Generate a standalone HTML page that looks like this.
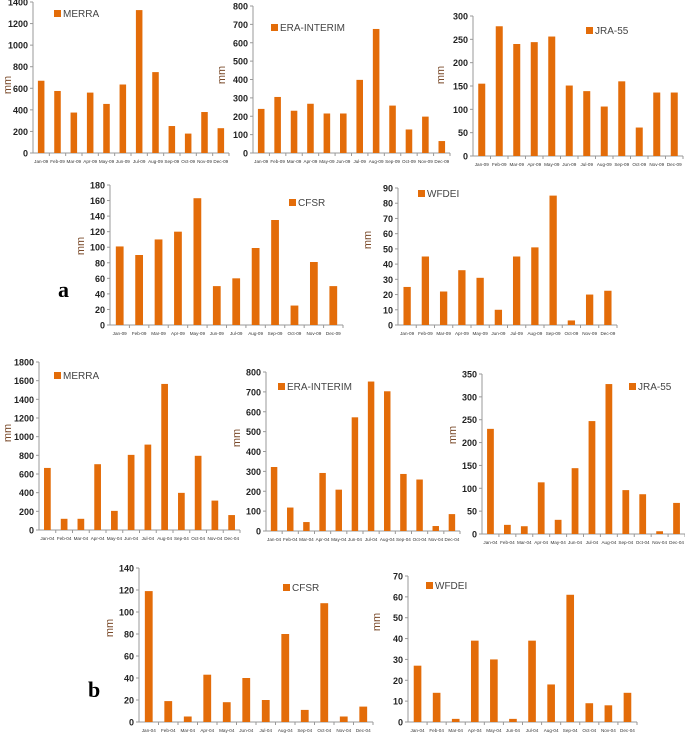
<!DOCTYPE html>
<html><head><meta charset="utf-8"><style>
html,body{margin:0;padding:0;background:#fff;}
svg{display:block;font-family:"Liberation Sans",sans-serif;}
</style></head><body>
<svg id="fig" width="685" height="734" viewBox="0 0 685 734" xmlns="http://www.w3.org/2000/svg">
<text x="58" y="297" font-family="Liberation Serif,serif" font-weight="bold" font-size="22">a</text>
<text x="88" y="697" font-family="Liberation Serif,serif" font-weight="bold" font-size="22">b</text>
</svg>
<script>
const months09 = ["Jan-09","Feb-09","Mar-09","Apr-09","May-09","Jun-09","Jul-09","Aug-09","Sep-09","Oct-09","Nov-09","Dec-09"];
const months04 = ["Jan-04","Feb-04","Mar-04","Apr-04","May-04","Jun-04","Jul-04","Aug-04","Sep-04","Oct-04","Nov-04","Dec-04"];
const merra09 = [670,575,375,560,455,635,1325,750,250,180,380,230];
const era09 = [240,305,230,268,215,215,398,675,258,128,198,65];
const jra09 = [155,278,240,244,256,151,139,106,160,61,136,136];
const cfsr09 = [101,90,110,120,163,50,60,99,135,25,81,50];
const wfdei09 = [25,45,22,36,31,10,45,51,85,3,20,22.5];
const merra04 = [665,120,120,705,205,805,915,1565,398,795,315,160];
const era04 = [322,118,45,292,208,572,752,703,287,259,25,85];
const jra04 = [230,20,17,113,31,144,247,328,96,87,6,68];
const cfsr04 = [119,19,5,43,18,40,20,80,11,108,5,14];
const wfdei04 = [27,14,1.5,39,30,1.5,39,18,61,9,8,14];
const ticks1400 = [0,200,400,600,800,1000,1200,1400];
const ticks800 = [0,100,200,300,400,500,600,700,800];
const ticks300 = [0,50,100,150,200,250,300];
const ticks180 = [0,20,40,60,80,100,120,140,160,180];
const ticks90 = [0,10,20,30,40,50,60,70,80,90];
const ticks1800 = [0,200,400,600,800,1000,1200,1400,1600,1800];
const ticks350 = [0,50,100,150,200,250,300,350];
const ticks140 = [0,20,40,60,80,100,120,140];
const ticks70 = [0,10,20,30,40,50,60,70];

const NS = "http://www.w3.org/2000/svg";
const svg = document.getElementById("fig");
function mk(tag, attrs, parent){
  const e = document.createElementNS(NS, tag);
  for (const k in attrs) e.setAttribute(k, attrs[k]);
  (parent||svg).appendChild(e);
  return e;
}
function chart(id, name, cats, vals, ticks, L, T, B, R, lx, ly, mx, my){
  const g = mk("g", {});
  
  
  const max = ticks[ticks.length-1];
  const y = v => B - (v/max)*(B-T);
  const slot = (R-L)/cats.length;
  const xc = i => L + slot*(i+0.5);
  const bw = slot*0.4;
  const ya = mk("line", {x1:L,y1:T,x2:L,y2:B,stroke:"#999","stroke-width":1}, g);
  
  
  const xa = mk("line", {x1:L,y1:B,x2:R,y2:B,stroke:"#999","stroke-width":1}, g);
  
  
  ticks.forEach(t => {
    mk("line", {x1:L-3,y1:y(t),x2:L,y2:y(t),stroke:"#999"}, g);
    const tx = mk("text", {x:L-5,y:y(t)+3.5,"text-anchor":"end","font-size":9,"font-weight":"bold",fill:"#222"}, g);
    tx.textContent = t;
    
    
  });
  cats.forEach((c,i) => {
    mk("line", {x1:L+slot*(i+1),y1:B,x2:L+slot*(i+1),y2:B+3,stroke:"#999"}, g);
    const r = mk("rect", {x:xc(i)-bw/2,y:y(vals[i]),width:bw,height:B-y(vals[i]),fill:"#E36C09"}, g);
    
    
    const tx = mk("text", {x:xc(i),y:B+10,"text-anchor":"middle","font-size":4.6,fill:"#333"}, g);
    tx.textContent = c;
    
    
  });
  const lr = mk("rect", {x:lx,y:ly-7,width:7,height:7,fill:"#E36C09"}, g);
  
  
  const lt = mk("text", {x:lx+9,y:ly,"font-size":10,fill:"#444"}, g);
  lt.textContent = name;
  
  
  const mmt = mk("text", {x:mx,y:my,"font-size":11,fill:"#7a4a2a","text-anchor":"middle",transform:`rotate(-90 ${mx} ${my})`}, g);
  mmt.textContent = "mm";
  
  
}
chart("merra-2009-chart","MERRA",months09,merra09,ticks1400,33,2,153,229,54,17,11,85);
chart("era-2009-chart","ERA-INTERIM",months09,era09,ticks800,253,6,153,450,271,31,225,75);
chart("jra-2009-chart","JRA-55",months09,jra09,ticks300,473,16,156,683,586,34,444,75);
chart("cfsr-2009-chart","CFSR",months09,cfsr09,ticks180,110,185,325,343,289,206,84,246);
chart("wfdei-2009-chart","WFDEI",months09,wfdei09,ticks90,398,188,325,617,418,197,371,240);
chart("merra-2004-chart","MERRA",months04,merra04,ticks1800,39,362,530,240,54,379,11,433);
chart("era-2004-chart","ERA-INTERIM",months04,era04,ticks800,266,372,531,460,278,390,240,438);
chart("jra-2004-chart","JRA-55",months04,jra04,ticks350,482,374,534,685,629,390,456,435);
chart("cfsr-2004-chart","CFSR",months04,cfsr04,ticks140,139,568,722,373,283,591,113,628);
chart("wfdei-2004-chart","WFDEI",months04,wfdei04,ticks70,408,576,722,637,426,589,380,622);
</script>
</body></html>
